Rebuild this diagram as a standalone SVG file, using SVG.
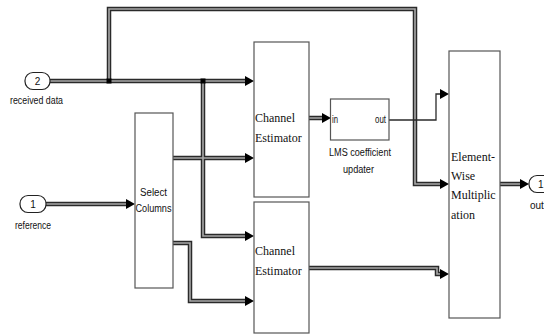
<svg xmlns="http://www.w3.org/2000/svg" width="544" height="335" viewBox="0 0 544 335">
<style>
.blk{fill:#fff;stroke:#555;stroke-width:1.2}
.port{fill:#fff;stroke:#222;stroke-width:1.2}
.so{fill:none;stroke:#2a2a2a;stroke-width:4.5}
.si{fill:none;stroke:#a8a8a8;stroke-width:1.6}
.thin{fill:none;stroke:#2a2a2a;stroke-width:1.3}
.serif{font-family:"Liberation Serif","Times New Roman",serif;font-size:12px;fill:#111}
.sans{font-family:"Liberation Sans",Arial,sans-serif;font-size:10px;fill:#111}
.arr{fill:#000}
</style>
<defs>
<path id="ah" d="M0,0 L-9,-5 L-9,5 Z"/>
</defs>
<g id="connectors">
<path class="so" d="M50,81 H246 M109,81 V9 H415 V184 H441 M203,81 V236 H246 M46,204 H128 M173,158 H246 M173,243 H190 V301 H246 M309,118 H323 M309,268 H437 V274 H441 M500,184 H521"/>
<path class="si" d="M50,81 H246 M109,81 V9 H415 V184 H441 M203,81 V236 H246 M46,204 H128 M173,158 H246 M173,243 H190 V301 H246 M309,118 H323 M309,268 H437 V274 H441 M500,184 H521"/>
<path class="thin" d="M389,120 H436 V94 H441"/>
<rect x="106.5" y="78.5" width="5" height="5" fill="#000"/>
<rect x="200.5" y="78.5" width="5" height="5" fill="#000"/>
<use href="#ah" class="arr" x="254" y="81"/>
<use href="#ah" class="arr" x="254" y="158"/>
<use href="#ah" class="arr" x="254" y="236"/>
<use href="#ah" class="arr" x="254" y="301"/>
<use href="#ah" class="arr" x="135" y="204"/>
<use href="#ah" class="arr" x="331" y="118"/>
<use href="#ah" class="arr" x="449" y="94"/>
<use href="#ah" class="arr" x="449" y="184"/>
<use href="#ah" class="arr" x="449" y="274"/>
<use href="#ah" class="arr" x="529" y="184"/>
</g>
<g id="inport2">
<rect class="port" x="25" y="72.5" width="25" height="17" rx="8"/>
<text class="sans" x="37.5" y="85" text-anchor="middle" font-size="11">2</text>
<text class="sans" x="10" y="104" textLength="53" lengthAdjust="spacingAndGlyphs">received data</text>
</g>
<g id="inport1">
<rect class="port" x="20" y="195.5" width="26" height="17" rx="8"/>
<text class="sans" x="33" y="208" text-anchor="middle" font-size="11">1</text>
<text class="sans" x="15" y="229" textLength="36" lengthAdjust="spacingAndGlyphs">reference</text>
</g>
<g id="select-columns">
<rect class="blk" x="135" y="113" width="38" height="175"/>
<text class="sans" x="140" y="196" textLength="27" lengthAdjust="spacingAndGlyphs">Select</text>
<text class="sans" x="135.5" y="212" textLength="36" lengthAdjust="spacingAndGlyphs">Columns</text>
</g>
<g id="channel-estimator-1">
<rect class="blk" x="254" y="42" width="55" height="155"/>
<text class="serif" x="255" y="122">Channel</text>
<text class="serif" x="255" y="142">Estimator</text>
</g>
<g id="channel-estimator-2">
<rect class="blk" x="254" y="202" width="55" height="131"/>
<text class="serif" x="255" y="255">Channel</text>
<text class="serif" x="255" y="275">Estimator</text>
</g>
<g id="lms">
<rect class="blk" x="330.5" y="99" width="58.5" height="41"/>
<text class="sans" x="332" y="123" textLength="6" lengthAdjust="spacingAndGlyphs">in</text>
<text class="sans" x="375" y="123" textLength="11" lengthAdjust="spacingAndGlyphs">out</text>
<text class="sans" x="329" y="156" textLength="62" lengthAdjust="spacingAndGlyphs">LMS coefficient</text>
<text class="sans" x="343" y="173" textLength="31" lengthAdjust="spacingAndGlyphs">updater</text>
</g>
<g id="element-wise">
<rect class="blk" x="449" y="51" width="51" height="267"/>
<text class="serif" x="451" y="161">Element-</text>
<text class="serif" x="451" y="180">Wise</text>
<text class="serif" x="451" y="199">Multiplic</text>
<text class="serif" x="451" y="219">ation</text>
</g>
<g id="outport1">
<rect class="port" x="529" y="175.5" width="26" height="17" rx="8"/>
<text class="sans" x="538" y="188" font-size="11">1</text>
<text class="sans" x="530" y="209">out</text>
</g>
</svg>
